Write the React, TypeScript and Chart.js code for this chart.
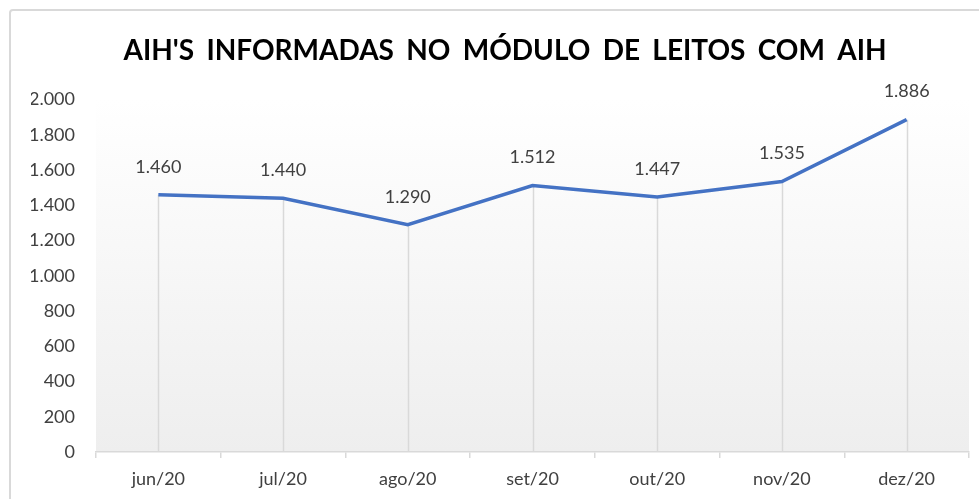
import React, { useEffect, useRef } from "react";
import { Chart, registerables } from "chart.js";

Chart.register(...registerables);

const TITLE = "AIH'S INFORMADAS NO MÓDULO DE LEITOS COM AIH";
const categories = ["jun/20", "jul/20", "ago/20", "set/20", "out/20", "nov/20", "dez/20"];
const values = [1460, 1440, 1290, 1512, 1447, 1535, 1886];
const yMin = 0;
const yMax = 2000;
const yStep = 200;

const FONT = "Lato, 'Open Sans', sans-serif";

const fmt = (v: number) => String(v).replace(/\B(?=(\d{3})+(?!\d))/g, ".");

const bgPlugin = {
  id: "plotBg",
  beforeDraw(chart: any) {
    const { ctx, chartArea } = chart;
    (ctx as any).wordSpacing = "5.5px";
    const g = ctx.createLinearGradient(0, chartArea.top, 0, chartArea.bottom);
    g.addColorStop(0, "#ffffff");
    g.addColorStop(1, "#eeeeee");
    ctx.save();
    ctx.fillStyle = g;
    ctx.fillRect(chartArea.left, chartArea.top, chartArea.right - chartArea.left, chartArea.bottom - chartArea.top);
    ctx.restore();
  },
  afterDraw(chart: any) {
    (chart.ctx as any).wordSpacing = "0px";
  },
};

const dropLines = {
  id: "dropLines",
  beforeDatasetsDraw(chart: any) {
    const { ctx, chartArea } = chart;
    const meta = chart.getDatasetMeta(0);
    ctx.save();
    ctx.strokeStyle = "#d9d9d9";
    ctx.lineWidth = 1.5;
    meta.data.forEach((p: any) => {
      ctx.beginPath();
      ctx.moveTo(Math.round(p.x) + 0.5, p.y);
      ctx.lineTo(Math.round(p.x) + 0.5, chartArea.bottom);
      ctx.stroke();
    });
    ctx.restore();
  },
};

const dataLabels = {
  id: "dataLabels",
  afterDatasetsDraw(chart: any) {
    const { ctx } = chart;
    const meta = chart.getDatasetMeta(0);
    const data = chart.data.datasets[0].data;
    ctx.save();
    ctx.fillStyle = "#404040";
    ctx.font = `18px ${FONT}`;
    ctx.textAlign = "center";
    ctx.textBaseline = "middle";
    meta.data.forEach((p: any, i: number) => {
      ctx.fillText(fmt(data[i]), p.x, p.y - 28);
    });
    ctx.restore();
  },
};

export default function App() {
  const ref = useRef<HTMLCanvasElement>(null);
  useEffect(() => {
    if (!ref.current) return;
    const chart = new Chart(ref.current, {
      type: "line",
      data: {
        labels: categories,
        datasets: [
          {
            data: values,
            borderColor: "#4472C4",
            borderWidth: 3.5,
            pointRadius: 0,
            pointHoverRadius: 0,
            tension: 0,
            fill: false,
          },
        ],
      },
      options: {
        animation: false,
        responsive: false,
        devicePixelRatio: 1,
        layout: { padding: { left: 31, right: 0, top: 0, bottom: 0 } },
        plugins: {
          legend: { display: false },
          tooltip: { enabled: false },
          title: {
            display: true,
            text: TITLE,
            color: "#000000",
            font: { family: FONT, size: 28, weight: "bold", lineHeight: 1.2 },
            padding: { top: 34, bottom: 32 },
          },
        },
        scales: {
          x: {
            offset: true,
            grid: {
              offset: true,
              drawOnChartArea: false,
              drawTicks: true,
              tickLength: 6,
              color: "#d9d9d9",
              lineWidth: 1.5,
            },
            border: { display: true, color: "#d9d9d9", width: 1.5 },
            ticks: {
              color: "#404040",
              font: { family: FONT, size: 18 },
              padding: 10,
              maxRotation: 0,
            },
            afterFit(scale: any) {
              scale.height = 47;
            },
          },
          y: {
            min: yMin,
            max: yMax,
            grid: { display: false, drawTicks: false },
            border: { display: false },
            ticks: {
              stepSize: yStep,
              color: "#404040",
              font: { family: FONT, size: 18 },
              padding: 21,
              callback: (v: any) => fmt(Number(v)),
            },
            afterFit(scale: any) {
              scale.width = 65;
            },
          },
          yRight: {
            position: "right",
            display: true,
            min: yMin,
            max: yMax,
            grid: { display: false, drawTicks: false },
            border: { display: false },
            ticks: { display: false },
            afterFit(scale: any) {
              scale.width = 10;
            },
          },
        },
      },
      plugins: [bgPlugin, dropLines, dataLabels],
    });
    return () => chart.destroy();
  }, []);

  return (
    <div style={{ position: "fixed", left: 0, top: 0, width: 979, height: 499, background: "#ffffff", overflow: "hidden" }}>
      <div
        style={{
          position: "absolute",
          left: 9,
          top: 9,
          width: 1100,
          height: 700,
          border: "2px solid #d9d9d9",
          borderRadius: 4,
        }}
      />
      <canvas ref={ref} width={979} height={499} style={{ position: "absolute", left: 0, top: 0 }} />
    </div>
  );
}
